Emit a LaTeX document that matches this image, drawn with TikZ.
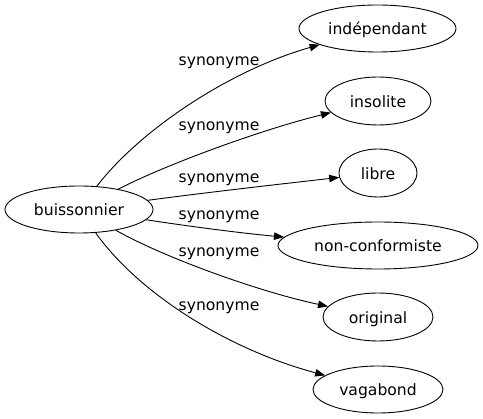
\documentclass[tikz,border=0pt]{standalone}
\usepackage{fontspec}
\setmainfont{DejaVu Sans}
\usetikzlibrary{shapes.geometric,arrows.meta}
\begin{document}
\begin{tikzpicture}[x=1pt,y=-1pt,
  every node/.style={font=\fontsize{15.6}{18}\selectfont},
  word/.style={ellipse,draw,line width=0.9pt,inner sep=0pt,text height=13pt,text depth=0pt},
  rel/.style={anchor=base,inner sep=0pt},
  link/.style={draw,line width=0.9pt,-{Triangle[length=10pt,width=7.5pt]}}]
\useasboundingbox (0,0) rectangle (483,419);
\node[word,minimum width=148pt,minimum height=47pt] (b) at (79,209.5) {buissonnier};
\node[word,minimum width=157pt,minimum height=47pt] (n1) at (377.5,28.5) {indépendant};
\node[word,minimum width=106pt,minimum height=48pt] (n2) at (378,101) {insolite};
\node[word,minimum width=78pt,minimum height=48pt] (n3) at (378,173) {libre};
\node[word,minimum width=200pt,minimum height=47pt] (n4) at (378,245.5) {non-conformiste};
\node[word,minimum width=110pt,minimum height=48pt] (n5) at (378,317) {original};
\node[word,minimum width=130pt,minimum height=47pt] (n6) at (378,389.5) {vagabond};
\node[rel] (l1) at (219,66) {synonyme};
\node[rel] (l2) at (219,131) {synonyme};
\node[rel] (l3) at (219,183) {synonyme};
\node[rel] (l4) at (219,220) {synonyme};
\node[rel] (l5) at (219,257) {synonyme};
\node[rel] (l6) at (219,311) {synonyme};
\draw[link] (b) .. controls (140,130) and (230,70) .. (n1);
\draw[link] (b) .. controls (165,165) and (260,130) .. (n2);
\draw[link] (b) .. controls (210,192) and (290,183) .. (n3);
\draw[link] (b) .. controls (200,228) and (250,234) .. (n4);
\draw[link] (b) .. controls (165,258) and (260,292) .. (n5);
\draw[link] (b) .. controls (140,295) and (230,350) .. (n6);
\end{tikzpicture}
\end{document}
